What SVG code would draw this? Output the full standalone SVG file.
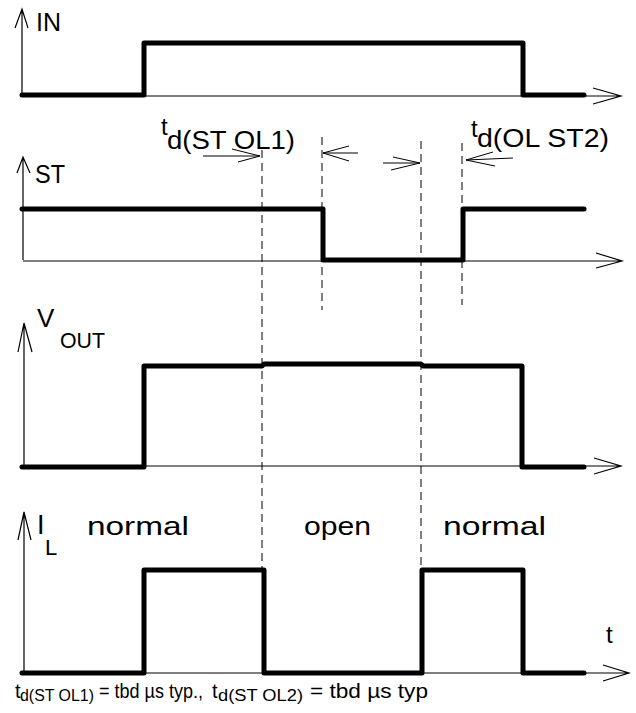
<svg xmlns="http://www.w3.org/2000/svg" width="636" height="713" viewBox="0 0 636 713">
<style>
.ax{fill:none;stroke:#000;stroke-width:1.2}
.sig{fill:none;stroke:#000;stroke-width:5;stroke-linejoin:round;stroke-linecap:round}
.dash{fill:none;stroke:#000;stroke-width:1;stroke-dasharray:8,5}
.ar{fill:none;stroke:#000;stroke-width:1}
text{font-family:"Liberation Sans",Arial,sans-serif;fill:#000}
</style>
<rect width="636" height="713" fill="#fff"/>
<g id="axes">
<path class="ax" d="M22,96 V9 M15,28 L22,9 L28,28 M22,96 H621 M593,88 L621,96 L593,104"/>
<path class="ax" d="M23,260 V157 M17,173 L23,157 L30,173 M23,261 H622 M596,253 L622,261 L596,268"/>
<path class="ax" d="M24,466 V323 M18,352 L24,323 L32,352 M24,466 H621 M594,458 L621,466 L594,474"/>
<path class="ax" d="M24,673 V512 M18,540 L24,512 L31,540 M24,673 H629 M603,665 L629,673 L603,681"/>
</g>
<g id="signals">
<path class="sig" d="M22,95 H144 V43 H523 V95 H584"/>
<path class="sig" d="M22,209 H323 V260 H463 V209 H584"/>
<path class="sig" d="M22,467 H144 V366 H262 L264,364 H421 L423,366 H522 V467 H584"/>
<path class="sig" d="M22,673 H144 V570 H264 V673 H422 V570 H523 V673 H584"/>
</g>
<g id="connectors">
<path class="dash" d="M262,150 V570"/>
<path class="dash" d="M322,137 V310"/>
<path class="dash" d="M421,141 V570"/>
<path class="dash" d="M462,143 V305"/>
<path class="ar" d="M203,156 H260 M232,149 L260,156 L238,162"/>
<path class="ar" d="M358,153 H323 M349,146 L323,153 L349,161"/>
<path class="ar" d="M383,163 H420 M393,157 L420,163 L391,170"/>
<path class="ar" d="M513,158 L466,160 M493,152 L466,160 L495,166"/>
</g>
<g id="labels">
<text x="36" y="31" font-size="25">IN</text>
<text x="35" y="183" font-size="25" textLength="30" lengthAdjust="spacingAndGlyphs">ST</text>
<text x="37" y="327" font-size="26">V</text>
<text x="60" y="348" font-size="22" textLength="45" lengthAdjust="spacingAndGlyphs">OUT</text>
<text x="37" y="534" font-size="27">I</text>
<text x="45" y="555" font-size="22">L</text>
<text x="606" y="643" font-size="24">t</text>
<text x="161" y="135" font-size="24">t</text>
<text x="167" y="149" font-size="26" textLength="128" lengthAdjust="spacingAndGlyphs">d(ST OL1)</text>
<text x="471" y="137" font-size="24">t</text>
<text x="477" y="147" font-size="26" textLength="132" lengthAdjust="spacingAndGlyphs">d(OL ST2)</text>
<text x="87" y="535" font-size="26" textLength="102" lengthAdjust="spacingAndGlyphs">normal</text>
<text x="304" y="535" font-size="26" textLength="67" lengthAdjust="spacingAndGlyphs">open</text>
<text x="443" y="535" font-size="26" textLength="103" lengthAdjust="spacingAndGlyphs">normal</text>
</g>
<g id="footnote">
<text font-size="20"><tspan x="15" y="698">t</tspan><tspan x="20" y="701" font-size="16" textLength="74" lengthAdjust="spacingAndGlyphs">d(ST OL1)</tspan><tspan x="99" y="698" textLength="104" lengthAdjust="spacingAndGlyphs">= tbd µs typ.,</tspan><tspan x="212" y="698">t</tspan><tspan x="218" y="701" font-size="16" textLength="85" lengthAdjust="spacingAndGlyphs">d(ST OL2)</tspan><tspan x="310" y="698" textLength="118" lengthAdjust="spacingAndGlyphs">= tbd µs typ</tspan></text>
</g>
</svg>
